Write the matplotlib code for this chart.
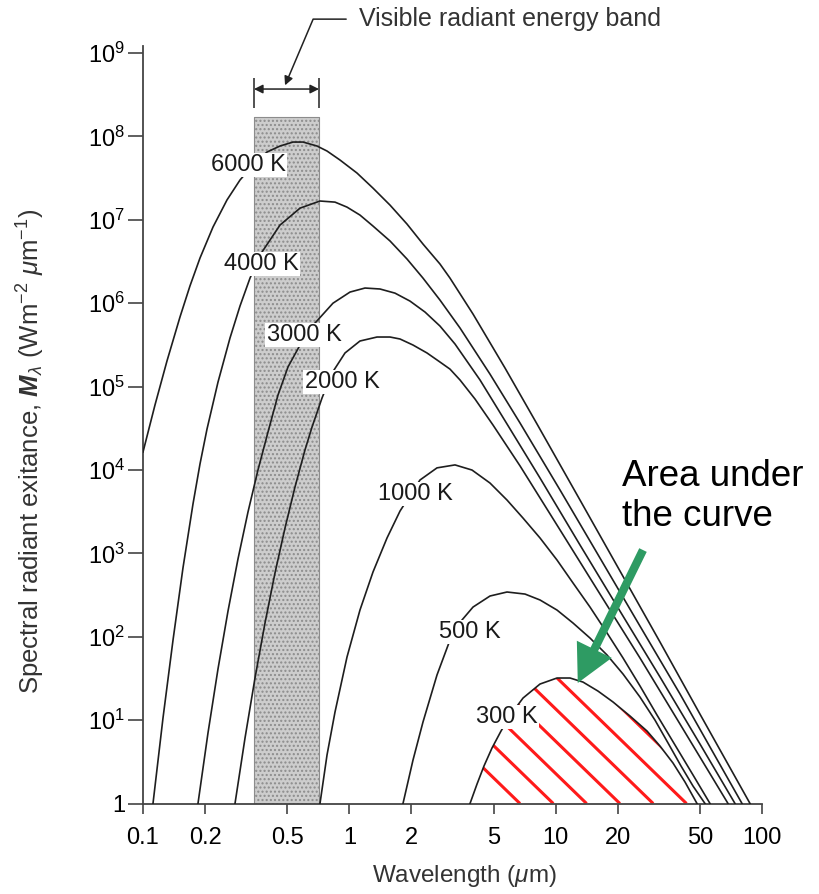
import numpy as np
import matplotlib
matplotlib.use('Agg')
import matplotlib.pyplot as plt

plt.rcParams['font.family'] = ['Liberation Sans', 'DejaVu Sans']
plt.rcParams['mathtext.fontset'] = 'custom'
plt.rcParams['mathtext.rm'] = 'Liberation Sans'
plt.rcParams['mathtext.it'] = 'Liberation Sans:italic'
plt.rcParams['mathtext.bf'] = 'Liberation Sans:italic:bold'

# curves: wavelength (um), exitance (W m-2 um-1)
wl_6000 = [0.1, 0.1143, 0.1307, 0.1511, 0.1689, 0.1889, 0.2184, 0.2553, 0.2952, 0.3413, 0.3990,
           0.4613, 0.5333, 0.5965, 0.6973, 0.7796, 0.9011, 1.089, 1.302, 1.575, 1.903, 2.275,
           2.750, 3.075, 3.976, 5.682, 8.120, 13.12, 20.50, 32.04, 50.06, 87.5]
m_6000 = [1.64e4, 6.01e4, 2.03e5, 6.83e5, 1.61e6, 3.48e6, 8.19e6, 1.73e7, 3.00e7, 4.54e7, 6.50e7,
          7.67e7, 8.56e7, 8.56e7, 7.67e7, 6.68e7, 5.21e7, 3.64e7, 2.40e7, 1.50e7, 8.90e6, 5.12e6,
          2.95e6, 2.00e6, 7.41e5, 1.67e5, 3.56e4, 4.36e3, 614, 86.4, 11.8, 1]

wl_4000 = [0.1118, 0.1250, 0.1398, 0.1562, 0.1747, 0.1889, 0.2043, 0.2309, 0.2640, 0.2952, 0.3301,
           0.3774, 0.4613, 0.5767, 0.7208, 0.8522, 0.9743, 1.126, 1.302, 1.575, 1.903, 2.275,
           2.750, 3.439, 4.806, 6.718, 10.50, 16.40, 25.63, 40.05, 55.98, 80.02]
m_4000 = [1, 10.6, 91.3, 667, 3.91e3, 1.18e4, 3.10e4, 1.13e5, 3.82e5, 9.25e5, 2.00e6,
          4.11e6, 8.65e6, 1.38e7, 1.68e7, 1.63e7, 1.42e7, 1.14e7, 8.42e6, 5.57e6, 3.39e6, 2.00e6,
          1.09e6, 5.04e5, 1.41e5, 3.66e4, 5.75e3, 879, 134, 20.6, 4.76, 1]

wl_3000 = [0.1847, 0.2065, 0.2309, 0.2582, 0.2886, 0.3227, 0.3607, 0.4035, 0.4511, 0.5044,
           0.5767, 0.6819, 0.8332, 1.0075, 1.191, 1.408, 1.665, 1.968, 2.327, 2.750,
           3.252, 4.299, 5.810, 8.397, 13.12, 20.50, 32.04, 50.06, 73.99]
m_3000 = [1, 7.00, 41.0, 203, 855, 3.13e3, 9.98e3, 2.85e4, 7.92e4, 1.72e5,
          3.15e5, 5.78e5, 1.00e6, 1.36e6, 1.52e6, 1.48e6, 1.32e6, 1.06e6, 7.83e5, 5.32e5,
          3.24e5, 1.20e5, 3.56e4, 8.01e3, 1.26e3, 203, 32.9, 5.17, 1]

wl_2000 = [0.2792, 0.3122, 0.3490, 0.3902, 0.4362, 0.4877, 0.5453, 0.6097, 0.6594, 0.7372,
           0.8240, 0.9529, 1.126, 1.362, 1.575, 1.761, 2.035, 2.379, 2.750, 3.075,
           3.439, 4.066, 4.969, 6.718, 10.50, 16.40, 25.63, 40.05, 68.44]
m_2000 = [1, 6.10, 32.0, 146, 581, 2.01e3, 6.25e3, 1.74e4, 3.27e4, 7.29e4,
          1.45e5, 2.53e5, 3.52e5, 3.93e5, 3.93e5, 3.72e5, 3.15e5, 2.53e5, 1.97e5, 1.62e5,
          1.20e5, 7.09e4, 3.46e4, 1.12e4, 1.91e3, 325, 55.6, 8.98, 1]

wl_1000 = [0.7208, 0.7796, 0.8522, 0.9743, 1.126, 1.302, 1.523, 1.761, 2.200, 2.660,
           3.252, 3.932, 4.806, 5.810, 6.947, 8.397, 10.15, 12.14, 14.67, 17.74,
           21.21, 25.63, 30.99, 37.88, 46.31, 55.98]
m_1000 = [1, 3.82, 12.5, 57.1, 209, 597, 1.53e3, 3.22e3, 7.58e3, 1.06e4,
          1.15e4, 9.98e3, 6.97e3, 4.36e3, 2.65e3, 1.53e3, 832, 441, 227, 111,
          55.6, 25.7, 11.5, 5.03, 2.20, 1]

wl_500 = [1.820, 2.035, 2.275, 2.660, 3.075, 3.517, 3.976, 4.806, 5.810, 7.104, 8.397,
          10.15, 12.14, 14.67, 17.74, 21.21, 25.63, 30.30, 35.04, 40.50, 46.31, 52.93]
m_500 = [1, 3.32, 9.49, 34.8, 91.3, 159, 227, 308, 344, 325, 276,
         209, 146, 96.5, 60.4, 35.7, 18.9, 10.0, 5.32, 2.82, 1.62, 1]

wl_300 = [3.845, 4.157, 4.494, 4.914, 5.434, 6.075, 6.947, 8.397, 10.15, 11.74,
          13.57, 16.04, 18.97, 22.93, 27.72, 32.04, 37.04, 42.35, 48.42]
m_300 = [1, 1.71, 2.82, 4.63, 7.40, 11.8, 18.4, 27.1, 32.0, 32.0,
         28.6, 22.3, 16.5, 11.2, 7.40, 4.89, 3.06, 1.81, 1]

curves = [(wl_6000, m_6000), (wl_4000, m_4000), (wl_3000, m_3000), (wl_2000, m_2000),
          (wl_1000, m_1000), (wl_500, m_500), (wl_300, m_300)]

curve_labels = ['6000 K', '4000 K', '3000 K', '2000 K', '1000 K', '500 K', '300 K']
label_x = [0.323, 0.373, 0.603, 0.921, 2.10, 3.85, 5.81]
label_y = [4.54e7, 2.95e6, 4.15e5, 1.135e5, 5.15e3, 114, 10.9]

visible_band = (0.345, 0.713)
band_top = 1.71e8

x_ticks = [0.1, 0.2, 0.5, 1, 2, 5, 10, 20, 50, 100]
x_ticklabels = ['0.1', '0.2', '0.5', '1', '2', '5', '10', '20', '50', '100']
y_ticks = [1, 1e1, 1e2, 1e3, 1e4, 1e5, 1e6, 1e7, 1e8, 1e9]
y_ticklabels = ['1'] + [r'$10^{%d}$' % i for i in range(1, 10)]

fig = plt.figure(figsize=(8.19, 8.94), dpi=100)
ax = fig.add_axes([0.1746, 0.1012, 0.7558, 0.8473])
ax.set_xscale('log')
ax.set_yscale('log')
ax.set_xlim(0.1, 100)
ax.set_ylim(1, 1.213e9)

# visible band
ax.fill_between(visible_band, 1, band_top, facecolor='#cdcdcd', edgecolor='#8c8c8c',
                hatch='....', linewidth=0.8, zorder=1)

for wl, m in curves:
    ax.plot(wl, m, color='#1e1e1e', lw=1.2, zorder=3, solid_joinstyle='round')

# red hatching under the 300 K curve
area = ax.fill_between(wl_300, 1, m_300, facecolor='none', edgecolor='none', zorder=2)
clip_path = area.get_paths()[0]
for xb in np.arange(0.609, 0.95, 0.0538):
    t = np.array([0.0, 0.4])
    ln, = ax.plot(xb - t, t * 619 / 757.5 * 0.97, transform=ax.transAxes,
                  color='#ff1a1a', lw=2.2, zorder=2, solid_capstyle='butt')
    ln.set_clip_path(clip_path, area.get_transform())

for lab, lx, ly in zip(curve_labels, label_x, label_y):
    ax.text(lx, ly, lab, fontsize=17, ha='center', va='center', color='#1a1a1a', zorder=4,
            bbox=dict(boxstyle='square,pad=0.05', facecolor='white', edgecolor='none'))

# bracket above the visible band
ax.vlines(visible_band, 2.22e8, 5.0e8, color='#222222', lw=1.1)
ax.annotate('', xy=(visible_band[0], 3.7e8), xytext=(visible_band[1], 3.7e8),
            arrowprops=dict(arrowstyle='<|-|>', color='#222222', lw=1.1,
                            mutation_scale=13, shrinkA=0, shrinkB=0))
ax.annotate('Visible radiant energy band', xy=(0.488, 4.1e8), xytext=(1.11, 2.55e9),
            fontsize=18, ha='left', va='center', color='#333333', annotation_clip=False,
            arrowprops=dict(arrowstyle='-|>', color='#222222', lw=1.1, mutation_scale=13,
                            relpos=(0, 0.5), shrinkA=7, shrinkB=0,
                            connectionstyle='angle,angleA=0,angleB=67,rad=0'))

# green arrow and note
ax.annotate('', xy=(12.8, 27.9), xytext=(26.5, 1096),
            arrowprops=dict(width=6, headwidth=28, headlength=27, color='#2e9b63', lw=0))
ax.text(0.774, 0.405, 'Area under\nthe curve', transform=ax.transAxes, fontsize=26.5,
        ha='left', va='center', color='black', linespacing=1.2)

ax.set_xticks(x_ticks)
ax.set_xticklabels(x_ticklabels)
ax.set_yticks(y_ticks)
ax.set_yticklabels(y_ticklabels)
ax.minorticks_off()
ax.tick_params(axis='y', length=11, width=1.2, color='#444444', labelsize=17, pad=2)
ax.tick_params(axis='x', length=7, width=1.2, color='#444444', labelsize=17, pad=10)

for side in ['top', 'right']:
    ax.spines[side].set_visible(False)
for side in ['left', 'bottom']:
    ax.spines[side].set_color('#444444')
    ax.spines[side].set_linewidth(1.3)

ax.set_xlabel(r'Wavelength ($\mu$m)', fontsize=17.5, color='#333333')
ax.xaxis.set_label_coords(0.52, -0.079)
ax.set_ylabel(r'Spectral radiant exitance, $\mathbf{M}_{\lambda}$ (Wm$^{-2}$ $\mu$m$^{-1}$)',
              fontsize=18.5, color='#333333')
ax.yaxis.set_label_coords(-0.155, 0.465)

fig.savefig('out.png', dpi=100)
